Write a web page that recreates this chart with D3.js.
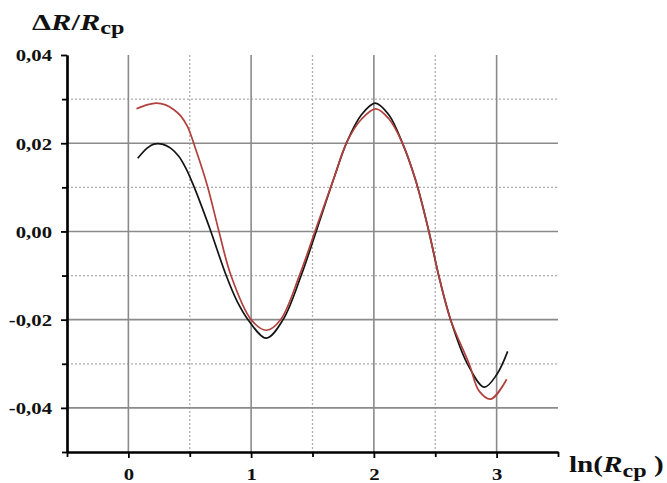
<!DOCTYPE html>
<html>
<head>
<meta charset="utf-8">
<script src="https://cdn.jsdelivr.net/npm/d3@7"></script>
<style>
  body { margin: 0; background: #fff; }
  text { font-family: "Liberation Serif", "Times New Roman", serif; font-weight: bold; fill: #111; }
</style>
</head>
<body>
<svg id="chart" width="667" height="483"></svg>
<script>
// values
const blackX = [0.076, 0.153, 0.207, 0.276, 0.344, 0.412, 0.467, 0.522, 0.59, 0.672, 0.797, 0.885, 0.975, 1.123, 1.26, 1.41, 1.53, 1.67, 1.779, 1.90, 2.011, 2.12, 2.23, 2.339, 2.448, 2.53, 2.625, 2.762, 2.899, 3.0, 3.09];
const blackY = [0.0166, 0.0189, 0.0198, 0.0198, 0.0189, 0.0170, 0.0144, 0.0110, 0.0062, 0.0, -0.0100, -0.0158, -0.0200, -0.0242, -0.0200, -0.0098, 0.0, 0.0117, 0.0202, 0.0265, 0.0291, 0.0265, 0.0202, 0.0117, 0.0, -0.0102, -0.0200, -0.0300, -0.0353, -0.0325, -0.0272];

const redX = [0.066, 0.153, 0.227, 0.303, 0.371, 0.426, 0.481, 0.55, 0.645, 0.738, 0.836, 1.0, 1.125, 1.24, 1.396, 1.52, 1.67, 1.779, 1.90, 2.016, 2.12, 2.23, 2.339, 2.448, 2.53, 2.625, 2.776, 2.858, 2.953, 3.082];
const redY = [0.0278, 0.0287, 0.0291, 0.0287, 0.0276, 0.0262, 0.0238, 0.0185, 0.0102, 0.0, -0.0100, -0.0200, -0.0224, -0.0200, -0.0098, 0.0, 0.0117, 0.0202, 0.0255, 0.0278, 0.0256, 0.0202, 0.0117, 0.0, -0.0102, -0.0200, -0.0300, -0.0362, -0.0380, -0.0335];

const xMajor = [0, 1, 2, 3];
const xMinor = [-0.5, 0.5, 1.5, 2.5, 3.5];
const yMajor = [0.04, 0.02, 0, -0.02, -0.04];
const yMinor = [0.03, 0.01, -0.01, -0.03, -0.05];

const svg = d3.select("#chart");
const stretch = 1.22; // the picture is a bit wider than it is tall

const x = d3.scaleLinear().domain([-0.5, 3.5]).range([67, 558]);
const y = d3.scaleLinear().domain([-0.05, 0.04]).range([452, 55]);
const fmt = d => d3.format(".2f")(d).replace(".", ",").replace("−", "-");

// grid
const grid = svg.append("g");
grid.selectAll(".vmin").data(xMinor.filter(d => d > -0.5 && d < 3.5)).join("line")
    .attr("x1", d => x(d)).attr("x2", d => x(d)).attr("y1", y(0.04)).attr("y2", y(-0.05))
    .attr("stroke", "#adadad").attr("stroke-width", 1.3).attr("stroke-dasharray", "2,2");
grid.selectAll(".hmin").data(yMinor.filter(d => d > -0.05)).join("line")
    .attr("x1", x(-0.5)).attr("x2", x(3.5)).attr("y1", d => y(d)).attr("y2", d => y(d))
    .attr("stroke", "#adadad").attr("stroke-width", 1.3).attr("stroke-dasharray", "2,2");
grid.selectAll(".vmaj").data(xMajor).join("line")
    .attr("x1", d => x(d)).attr("x2", d => x(d)).attr("y1", y(0.04)).attr("y2", y(-0.05))
    .attr("stroke", "#8a8a8a").attr("stroke-width", 1.6);
grid.selectAll(".hmaj").data(yMajor.filter(d => d < 0.04)).join("line")
    .attr("x1", x(-0.5)).attr("x2", x(3.5)).attr("y1", d => y(d)).attr("y2", d => y(d))
    .attr("stroke", "#8a8a8a").attr("stroke-width", 1.6);

// curves
const line = d3.line().x(d => x(d[0])).y(d => y(d[1])).curve(d3.curveCatmullRom.alpha(0.5));
svg.append("path").datum(d3.zip(blackX, blackY)).attr("d", line)
    .attr("fill", "none").attr("stroke", "#141414").attr("stroke-width", 1.7);
svg.append("path").datum(d3.zip(redX, redY)).attr("d", line)
    .attr("fill", "none").attr("stroke", "#b2403c").attr("stroke-width", 1.7);

// axes
const yAxis = svg.append("g").attr("transform", `translate(${x(-0.5)},0)`)
    .call(d3.axisLeft(y).tickValues(yMajor).tickSize(6).tickSizeOuter(0).tickFormat(fmt));
svg.append("g").attr("transform", `translate(${x(-0.5)},0)`)
    .call(d3.axisLeft(y).tickValues(yMinor).tickSize(5).tickSizeOuter(0).tickFormat(""));
const xAxis = svg.append("g").attr("transform", `translate(0,${y(-0.05)})`)
    .call(d3.axisBottom(x).tickValues(xMajor).tickSize(6).tickSizeOuter(0).tickFormat(d3.format("d")));
svg.append("g").attr("transform", `translate(0,${y(-0.05)})`)
    .call(d3.axisBottom(x).tickValues(xMinor).tickSize(5).tickSizeOuter(0).tickFormat(""));

svg.selectAll(".domain").attr("stroke", "#000").attr("stroke-width", 2.2);
svg.selectAll(".tick line").attr("stroke", "#000").attr("stroke-width", 1.8);

yAxis.selectAll("text")
    .attr("x", -15 / stretch).attr("dy", "0.34em")
    .attr("transform", `scale(${stretch},1)`)
    .attr("font-family", "Liberation Serif")
    .style("font-size", "17px").style("font-weight", "bold")
    .attr("fill", "#111");
xAxis.selectAll("text")
    .attr("y", 28).attr("dy", 0)
    .attr("transform", `scale(${stretch},1)`)
    .attr("font-family", "Liberation Serif")
    .style("font-size", "17px").style("font-weight", "bold")
    .attr("fill", "#111");

// axis titles
const yTitle = svg.append("text")
    .attr("transform", `translate(32,30) scale(1.27,1)`)
    .style("font-size", "24px");
yTitle.append("tspan").text("Δ");
yTitle.append("tspan").style("font-style", "italic").text("R");
yTitle.append("tspan").text("/");
yTitle.append("tspan").style("font-style", "italic").text("R");
yTitle.append("tspan").attr("dy", 4).style("font-size", "19px").text("cp");

const xTitle = svg.append("text")
    .attr("transform", `translate(569,472) scale(1.27,1)`)
    .style("font-size", "23px");
xTitle.append("tspan").text("ln(");
xTitle.append("tspan").style("font-style", "italic").text("R");
xTitle.append("tspan").attr("dy", 5).style("font-size", "19px").text("cp");
xTitle.append("tspan").attr("dy", -5).text(" )");
</script>
</body>
</html>
